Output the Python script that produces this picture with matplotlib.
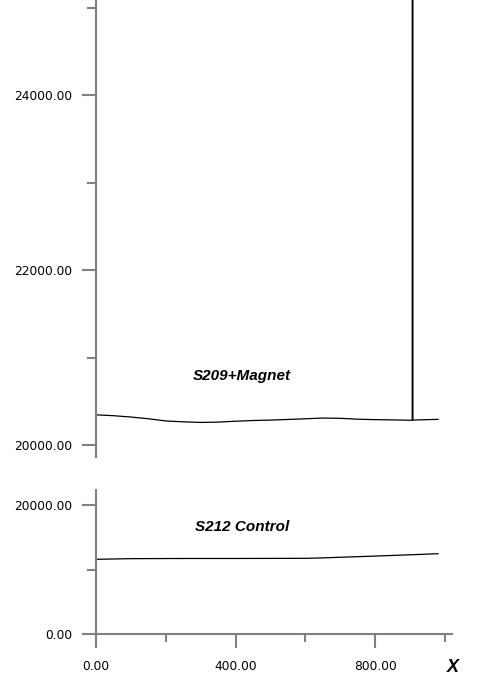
import matplotlib
matplotlib.use("Agg")
import matplotlib.pyplot as plt
from matplotlib.ticker import FixedLocator, FormatStrFormatter

# Data
top_x = [0, 50, 100, 150, 200, 250, 300, 350, 400, 450, 500, 550, 600, 650,
         700, 750, 800, 850, 906, 907, 908, 950, 980]
top_y = [20345, 20335, 20320, 20300, 20275, 20265, 20258, 20262, 20272, 20280,
         20285, 20292, 20300, 20308, 20305, 20295, 20290, 20287, 20283, 90000,
         20285, 20290, 20293]
bot_x = [0, 100, 200, 300, 400, 500, 600, 650, 700, 800, 900, 980]
bot_y = [11580, 11680, 11700, 11710, 11710, 11720, 11730, 11800, 11900, 12080,
         12280, 12450]

top_major = [20000, 22000, 24000]
top_minor = [21000, 23000, 25000]
bot_major = [0, 20000]
bot_minor = [10000]
x_major = [0, 400, 800]
x_minor = [200, 600, 1000]
top_label = "S209+Magnet"
bot_label = "S212 Control"
x_label = "X"

W, H = 491, 692
fig = plt.figure(figsize=(W / 100, H / 100), dpi=100)
axc = "#7f7f7f"
PX = 0.72  # points per pixel

ax1 = fig.add_axes([96 / W, (H - 457) / H, (452 - 96) / W, 457 / H])
ax2 = fig.add_axes([96 / W, (H - 634) / H, (452 - 96) / W, (634 - 490) / H])

for ax in (ax1, ax2):
    for s in ("top", "right"):
        ax.spines[s].set_visible(False)
    ax.spines["left"].set_color(axc)
    ax.spines["left"].set_linewidth(1.5)
    ax.spines["bottom"].set_color(axc)
    ax.spines["bottom"].set_linewidth(1.5)
    ax.set_xlim(0, 1020)
    ax.tick_params(axis="y", which="major", length=14 * PX, width=1.5,
                   color=axc, labelsize=8.8, pad=10 * PX)
    ax.tick_params(axis="y", which="minor", length=9 * PX, width=1.5,
                   color=axc)
    ax.yaxis.set_major_formatter(FormatStrFormatter("%.2f"))

ax1.spines["bottom"].set_visible(False)
ax1.tick_params(axis="x", which="both", bottom=False, labelbottom=False)
ax1.set_ylim(19863, 25086)
ax1.yaxis.set_major_locator(FixedLocator(top_major))
ax1.yaxis.set_minor_locator(FixedLocator(top_minor))
ax1.plot(top_x, top_y, color="black", lw=0.9)
ax1.text(0.41, 0.178, top_label, transform=ax1.transAxes, ha="center",
         va="center", fontsize=11, fontweight="bold", style="italic",
         family="Liberation Sans")

ax2.set_ylim(0, 22326)
ax2.yaxis.set_major_locator(FixedLocator(bot_major))
ax2.yaxis.set_minor_locator(FixedLocator(bot_minor))
ax2.xaxis.set_major_locator(FixedLocator(x_major))
ax2.xaxis.set_minor_locator(FixedLocator(x_minor))
ax2.xaxis.set_major_formatter(FormatStrFormatter("%.2f"))
ax2.tick_params(axis="x", which="major", length=14 * PX, width=1.5,
                color=axc, labelsize=8.8, pad=12 * PX)
ax2.tick_params(axis="x", which="minor", length=8 * PX, width=1.5, color=axc)
ax2.plot(bot_x, bot_y, color="black", lw=0.9)
ax2.text(0.41, 0.74, bot_label, transform=ax2.transAxes, ha="center",
         va="center", fontsize=11, fontweight="bold", style="italic",
         family="Liberation Sans")
fig.text(453 / W, 1 - 668 / H, x_label, ha="center", va="center",
         fontsize=13, fontweight="bold", style="italic",
         family="Liberation Sans")

fig.savefig("out.png", dpi=100)
